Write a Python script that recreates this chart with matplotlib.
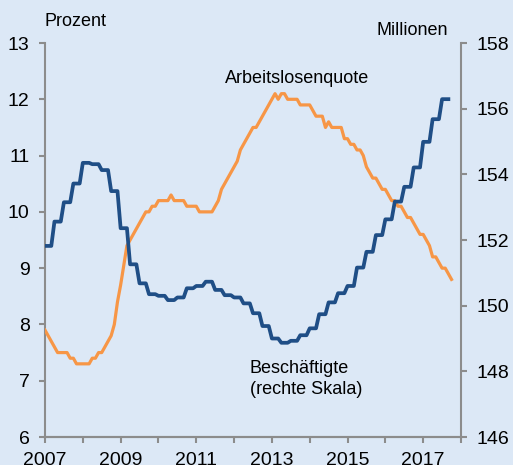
import numpy as np
import matplotlib
matplotlib.use('Agg')
from matplotlib import pyplot as plt

# Arbeitslosenquote, monatlich ab Januar 2007 (Prozent)
arbeitslosenquote = [
    7.9, 7.8, 7.7, 7.6, 7.5, 7.5, 7.5, 7.5, 7.4, 7.4, 7.3, 7.3,
    7.3, 7.3, 7.3, 7.4, 7.4, 7.5, 7.5, 7.6, 7.7, 7.8, 8.0, 8.4,
    8.7, 9.05, 9.4, 9.5, 9.6, 9.7, 9.8, 9.9, 10.0, 10.0, 10.1, 10.1,
    10.2, 10.2, 10.2, 10.2, 10.3, 10.2, 10.2, 10.2, 10.2, 10.1, 10.1, 10.1,
    10.1, 10.0, 10.0, 10.0, 10.0, 10.0, 10.1, 10.2, 10.4, 10.5, 10.6, 10.7,
    10.8, 10.9, 11.1, 11.2, 11.3, 11.4, 11.5, 11.5, 11.6, 11.7, 11.8, 11.9,
    12.0, 12.1, 12.0, 12.1, 12.1, 12.0, 12.0, 12.0, 12.0, 11.9, 11.9, 11.9,
    11.9, 11.8, 11.7, 11.7, 11.7, 11.5, 11.6, 11.5, 11.5, 11.5, 11.5, 11.3,
    11.3, 11.2, 11.2, 11.1, 11.1, 11.0, 10.8, 10.7, 10.6, 10.6, 10.5, 10.4,
    10.4, 10.3, 10.2, 10.2, 10.1, 10.1, 10.0, 9.9, 9.9, 9.8, 9.7, 9.6,
    9.6, 9.5, 9.4, 9.2, 9.2, 9.1, 9.0, 9.0, 8.9, 8.8,
]

# Beschäftigte, quartalsweise ab Q1 2007 (Millionen)
beschaeftigte_q = [
    151.82, 152.56, 153.15, 153.72,
    154.35, 154.31, 154.13, 153.49,
    152.36, 151.26, 150.68, 150.35,
    150.30, 150.17, 150.25, 150.53,
    150.60, 150.73, 150.48, 150.32,
    150.25, 150.07, 149.77, 149.38,
    149.00, 148.87, 148.93, 149.10,
    149.31, 149.74, 150.10, 150.38,
    150.60, 151.16, 151.64, 152.15,
    152.63, 153.17, 153.62, 154.21,
    154.99, 155.68, 156.29,
]

x_ticks = list(range(2007, 2019))
x_labels = [str(j) if j % 2 == 1 and j < 2018 else '' for j in x_ticks]

# Quartalswerte auf Monate verteilen (je drei Monate gleicher Wert)
beschaeftigte = np.repeat(beschaeftigte_q, 3)
t_alq = 2007 + np.arange(len(arbeitslosenquote)) / 12
t_bes = 2007 + np.arange(len(beschaeftigte)) / 12

bg = '#dce8f6'
orange = '#f79646'
blau = '#1f4e86'
grau = '#8c8c8c'

plt.rcParams['font.family'] = ['Liberation Sans', 'DejaVu Sans']

fig = plt.figure(figsize=(5.13, 4.65), dpi=100, facecolor=bg)
ax = fig.add_axes([0.0877, 0.0602, 0.8109, 0.8473])
ax.set_facecolor(bg)
ax2 = ax.twinx()

ax.plot(t_alq, arbeitslosenquote, color=orange, lw=2.3, zorder=3)
ax2.plot(t_bes, beschaeftigte, color=blau, lw=2.7, zorder=3)

ax.set_xlim(2007, 2018)
ax.set_ylim(6, 13)
ax2.set_ylim(146, 158)
ax.set_yticks(range(6, 14))
ax2.set_yticks(range(146, 159, 2))
ax.set_xticks(x_ticks)
ax.set_xticklabels(x_labels)

for a in (ax, ax2):
    a.spines['top'].set_visible(False)
    for s in ('left', 'right', 'bottom'):
        a.spines[s].set_color(grau)
        a.spines[s].set_linewidth(1.5)
    a.tick_params(axis='both', color=grau, width=1.5, length=4,
                  labelsize=14, pad=7, direction='out')
ax2.spines['left'].set_visible(False)
ax.spines['right'].set_visible(False)

ax.text(2007.0, 13.30, 'Prozent', fontsize=13, ha='left', va='baseline')
ax2.text(2017.66, 158.24, 'Millionen', fontsize=13, ha='right', va='baseline')
ax.text(2013.67, 12.295, 'Arbeitslosenquote', fontsize=13, ha='center', va='baseline')
ax.text(2012.42, 7.144, 'Beschäftigte', fontsize=13, ha='left', va='baseline')
ax.text(2012.42, 6.766, '(rechte Skala)', fontsize=13, ha='left', va='baseline')

fig.savefig('out.png', dpi=100, facecolor=bg)
